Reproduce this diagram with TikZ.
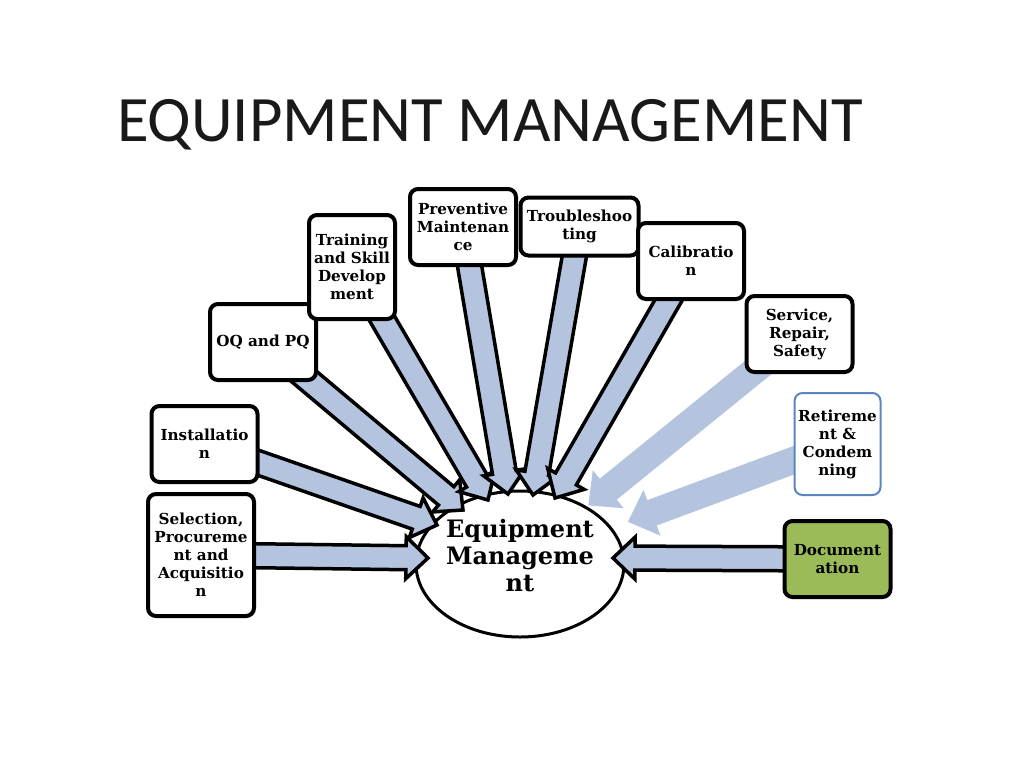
\documentclass[tikz,border=0pt]{standalone}
\usepackage{fontspec}
\setmainfont{DejaVu Serif}
\newfontfamily\titlefont{Carlito}
\usetikzlibrary{calc}
\usetikzlibrary{shapes.geometric}
\definecolor{flowblue}{HTML}{B4C4DF}
\definecolor{retblue}{HTML}{5A86C0}
\definecolor{docgreen}{HTML}{9BBB59}
\pgfdeclarelayer{bottom}
\pgfdeclarelayer{back}
\pgfsetlayers{bottom,back,main}
\tikzset{
    stage/.style={draw=black, line width=2pt, fill=white, rounded corners=4pt,
        align=center, inner sep=1pt, font=\fontsize{7.6}{9}\selectfont\bfseries},
    flow/.style={draw=black, line width=1.75pt, fill=flowblue, line join=miter},
    faintflow/.style={draw=flowblue, line width=1.5pt, fill=flowblue, line join=miter},
    hub/.style={ellipse, draw=black, line width=1.5pt, fill=white,
        minimum width=104pt, minimum height=73pt, inner sep=0pt},
    hubtext/.style={align=center, font=\fontsize{12}{13.5}\selectfont\bfseries}
}
% wide block arrow: style, from node, to coordinate
\newcommand{\fatarrow}[3][flow]{%
  \coordinate (neck) at ($(#3)!11pt!(#2.center)$);
  \draw[style={#1}] ($(#2.center)!6pt!90:(#3)$) -- ($(neck)!6pt!-90:(#2.center)$)
    -- ($(neck)!10.5pt!-90:(#2.center)$) -- (#3)
    -- ($(neck)!10.5pt!90:(#2.center)$) -- ($(neck)!6pt!90:(#2.center)$)
    -- ($(#2.center)!6pt!-90:(#3)$) -- cycle;}

\begin{document}
\begin{tikzpicture}[x=0.5pt, y=-0.5pt]
\useasboundingbox (0,0) rectangle (1024,768);
\begin{pgfonlayer}{bottom}
\fill[white] (0,0) rectangle (1024,768);
\node[hub] (eqm) at (520,564) {};
\end{pgfonlayer}

\node[anchor=base west, text=black!90, font=\titlefont\fontsize{32.4}{33}\selectfont]
  (title) at (110,141) {EQUIPMENT MANAGEMENT};
\node[hubtext] (eqm-text) at (520,556) {Equipment\\Manageme\\nt};

\node[stage, minimum width=53pt, minimum height=61pt] (sel) at (201,555)
  {Selection,\\Procureme\\nt and\\Acquisitio\\n};
\node[stage, minimum width=53pt, minimum height=38pt] (inst) at (204.5,444)
  {Installatio\\n};
\node[stage, minimum width=53pt, minimum height=38pt] (oq) at (263,342)
  {OQ and PQ};
\node[stage, minimum width=43pt, minimum height=52pt] (train) at (352,267)
  {Training\\and Skill\\Develop\\ment};
\node[stage, minimum width=53pt, minimum height=38pt] (prev) at (463,227)
  {Preventive\\Maintenan\\ce};
\node[stage, minimum width=59pt, minimum height=29pt] (trou) at (579.5,226.5)
  {Troubleshoo\\ting};
\node[stage, minimum width=53pt, minimum height=38pt] (cal) at (691,261)
  {Calibratio\\n};
\node[stage, minimum width=53pt, minimum height=38pt] (serv) at (799.5,334)
  {Service,\\Repair,\\Safety};
\node[stage, draw=retblue, line width=1pt, minimum width=43pt, minimum height=51pt]
  (ret) at (837.5,444) {Retireme\\nt \&\\Condem\\ning};
\node[stage, fill=docgreen, minimum width=53pt, minimum height=38pt] (doc) at (837.5,559)
  {Document\\ation};

\coordinate (sel-tip) at (428,558);
\coordinate (inst-tip) at (437,525);
\coordinate (oq-tip) at (463,510);
\coordinate (train-tip) at (488,500);
\coordinate (prev-tip) at (508,494);
\coordinate (trou-tip) at (533,495);
\coordinate (cal-tip) at (555,498);
\coordinate (serv-tip) at (590,504);
\coordinate (ret-tip) at (630,521);
\coordinate (doc-tip) at (613,558);

\begin{pgfonlayer}{back}
\fatarrow{sel}{sel-tip}
\fatarrow{inst}{inst-tip}
\fatarrow{oq}{oq-tip}
\fatarrow{train}{train-tip}
\fatarrow{prev}{prev-tip}
\fatarrow{trou}{trou-tip}
\fatarrow{cal}{cal-tip}
\fatarrow[faintflow]{serv}{serv-tip}
\fatarrow[faintflow]{ret}{ret-tip}
\fatarrow{doc}{doc-tip}
\end{pgfonlayer}
\end{tikzpicture}
\end{document}
